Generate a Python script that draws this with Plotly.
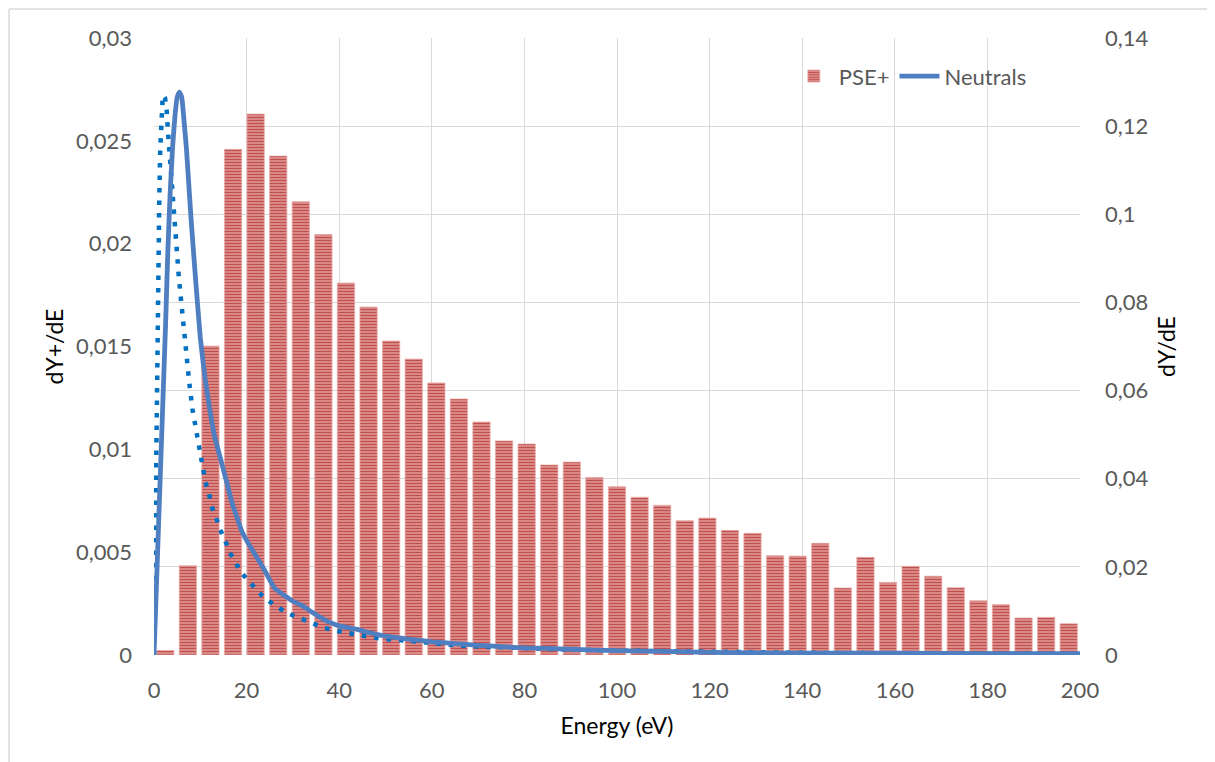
import plotly.graph_objects as go

# ---------------- data ----------------
# PSE+ histogram (left axis, dY+/dE), 41 energy categories 0..200 eV, step 5
PSE_BINS = [0, 5, 10, 15, 20, 25, 30, 35, 40, 45, 50, 55, 60, 65, 70, 75, 80, 85, 90, 95,
            100, 105, 110, 115, 120, 125, 130, 135, 140, 145, 150, 155, 160, 165, 170, 175,
            180, 185, 190, 195, 200]
PSE_VALUES = [0.00022, 0.00434, 0.01502, 0.02459, 0.02630, 0.02426, 0.02204, 0.02044,
              0.01809, 0.01692, 0.01527, 0.01439, 0.01323, 0.01245, 0.01133, 0.01041,
              0.01026, 0.00924, 0.00938, 0.00863, 0.00818, 0.00767, 0.00728, 0.00653,
              0.00666, 0.00606, 0.00592, 0.00483, 0.00481, 0.00543, 0.00326, 0.00475,
              0.00353, 0.00431, 0.00383, 0.00327, 0.00264, 0.00245, 0.00180, 0.00183,
              0.00152]

# Neutrals (right axis, dY/dE)
NEUTRAL_E = [0, 0.5, 1, 1.5, 2, 2.5, 3, 3.5, 4, 4.5, 5, 5.5, 6, 6.5, 7, 7.5, 8, 9, 10,
             11, 12, 13, 14, 15, 16, 17, 18, 19, 20, 22, 24, 26, 28, 30, 32, 34, 36, 38,
             40, 42, 44, 46, 48, 50, 55, 60, 65, 70, 75, 80, 85, 90, 95, 100, 110, 120,
             130, 140, 160, 180, 200]
NEUTRAL_Y = [0.0, 0.015, 0.030, 0.045, 0.060, 0.075, 0.092, 0.105, 0.115, 0.122, 0.1265,
             0.1277, 0.1265, 0.121, 0.115, 0.107, 0.099, 0.085, 0.072, 0.063, 0.056, 0.050,
             0.046, 0.042, 0.038, 0.034, 0.031, 0.028, 0.026, 0.0225, 0.019, 0.0152,
             0.0136, 0.0122, 0.0112, 0.0098, 0.0085, 0.0074, 0.0066, 0.0062, 0.0058,
             0.0052, 0.0047, 0.0043, 0.0036, 0.0030, 0.0026, 0.0022, 0.0019, 0.0016,
             0.0015, 0.0013, 0.0011, 0.0010, 0.0008, 0.0006, 0.0005, 0.0004, 0.0004,
             0.0003, 0.0003]

# dotted reference curve (right axis)
DOTTED_E = [0, 0.3, 0.45, 0.7, 0.95, 1.15, 1.35, 1.6, 1.9, 2.4, 2.75, 3.1, 3.46, 3.9,
            4.4, 4.9, 5.3, 5.8, 6.0, 7.0, 7.6, 8.3, 9.2, 10.1, 11.1, 11.9, 12.4, 13.4,
            14.3, 15.4, 16.4, 17.7, 19.1, 20.9, 22.7, 24.7, 26.9, 29.3, 31.7, 34.2,
            36.6, 39.4, 42, 44.5, 47.3, 49.9, 55.4, 60.6, 66, 71.2, 79.4, 90, 100, 120,
            140, 160, 180, 200]
DOTTED_Y = [0.0, 0.030, 0.058, 0.075, 0.090, 0.104, 0.115, 0.123, 0.127, 0.1263, 0.1233,
            0.1176, 0.112, 0.106, 0.098, 0.0923, 0.0866, 0.081, 0.0787, 0.068, 0.062,
            0.0558, 0.0503, 0.0449, 0.0393, 0.0365, 0.0338, 0.0312, 0.0284, 0.0259,
            0.0232, 0.0208, 0.0184, 0.0163, 0.0141, 0.0123, 0.0107, 0.0093, 0.0082,
            0.0072, 0.0062, 0.0055, 0.0049, 0.0045, 0.0040, 0.0036, 0.0032, 0.0026,
            0.0021, 0.0019, 0.0015, 0.0012, 0.0010, 0.0007, 0.0005, 0.0004, 0.0003,
            0.0002]

X_TICKS = [0, 20, 40, 60, 80, 100, 120, 140, 160, 180, 200]

# ---------------- styling ----------------
FONT = "Lato"
TICK_COLOR = "#595959"
GRID = "#d9d9d9"
FS = 22
TFS = 23

# page body has an 8px default margin -> figure origin at (8, 8)
W, H = 1207, 754
ML, MR, MT, MB = 146, 135, 30, 107
PW = W - ML - MR
PH = H - MT - MB

fig = go.Figure()

fig.add_trace(go.Bar(
    x=PSE_BINS, y=PSE_VALUES, name="PSE+",
    xaxis="x", yaxis="y",
    marker=dict(
        color="#c0504d",
        line=dict(width=0.8, color="rgba(232,168,166,0.9)"),
        pattern=dict(shape="-", fgcolor="#c0504d", bgcolor="#e6a3a1",
                     size=3, solidity=0.55, fillmode="replace"),
    ),
))

fig.add_trace(go.Scatter(
    x=DOTTED_E, y=DOTTED_Y, mode="lines", showlegend=False,
    xaxis="x2", yaxis="y2",
    line=dict(color="#0070c0", width=4.5, dash="4.5px,8px"),
))

fig.add_trace(go.Scatter(
    x=NEUTRAL_E, y=NEUTRAL_Y, mode="lines", name="Neutrals",
    xaxis="x2", yaxis="y2",
    line=dict(color="#4f7fc0", width=4.8, shape="spline", smoothing=0.4),
))

fig.update_layout(
    width=W, height=H,
    margin=dict(l=ML, r=MR, t=MT, b=MB),
    paper_bgcolor="white", plot_bgcolor="white",
    separators=", ",
    font=dict(family=FONT, size=FS, color=TICK_COLOR),
    bargap=0.235,
    showlegend=True,
    legend=dict(orientation="h", x=0.948, xanchor="right", y=0.938, yanchor="middle",
                font=dict(family=FONT, size=FS, color=TICK_COLOR),
                bgcolor="rgba(0,0,0,0)", itemwidth=40, tracegroupgap=0),
    xaxis=dict(range=[-2.5, 202.5], visible=False, fixedrange=True),
    yaxis=dict(range=[0, 0.03], dtick=0.005, tick0=0, showgrid=False, zeroline=False,
               showline=False, ticks="", ticklabelstandoff=21,
               tickfont=dict(family=FONT, size=FS, color=TICK_COLOR),
               title=dict(text="dY+/dE", standoff=5,
                          font=dict(family=FONT, size=TFS, color="#000000"))),
    xaxis2=dict(overlaying="x", anchor="y2", side="bottom", range=[0, 200],
                tickvals=X_TICKS, showgrid=True, gridcolor=GRID, gridwidth=1.3,
                zeroline=False, showline=False, ticks="", ticklabelstandoff=20,
                tickfont=dict(family=FONT, size=FS, color=TICK_COLOR),
                title=dict(text="Energy (eV)", standoff=15,
                           font=dict(family=FONT, size=TFS, color="#000000"))),
    yaxis2=dict(overlaying="y", side="right", anchor="x2", range=[0, 0.14], dtick=0.02,
                tick0=0, showgrid=True, gridcolor=GRID, gridwidth=1.3, zeroline=False,
                showline=False, ticks="", ticklabelstandoff=24,
                tickfont=dict(family=FONT, size=FS, color=TICK_COLOR),
                title=dict(text="dY/dE", standoff=11,
                           font=dict(family=FONT, size=TFS, color="#000000"))),
    shapes=[
        # chart-area border (top and left edges)
        dict(type="line", xref="paper", yref="paper",
             x0=(9 - 8 - ML) / PW, x1=(1215 - 8 - ML) / PW,
             y0=(H - MB - (9 - 8)) / PH, y1=(H - MB - (9 - 8)) / PH,
             line=dict(color=GRID, width=1.5)),
        dict(type="line", xref="paper", yref="paper",
             x0=(9 - 8 - ML) / PW, x1=(9 - 8 - ML) / PW,
             y0=-MB / PH, y1=(H - MB - (9 - 8)) / PH,
             line=dict(color=GRID, width=1.5)),
    ],
)

fig.write_html("out.html")
